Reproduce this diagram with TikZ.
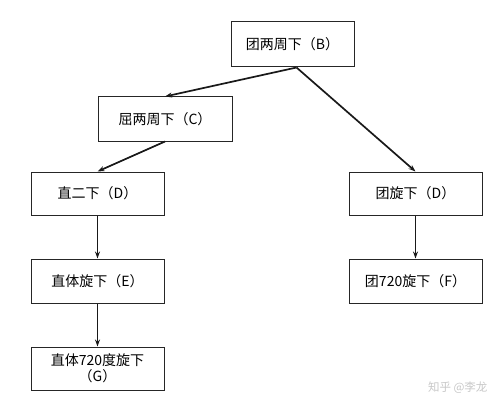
\documentclass[tikz,border=0pt]{standalone}
\usepackage{fontspec}
\setmainfont{Noto Sans CJK SC}
\usetikzlibrary{arrows.meta}
\begin{document}
\begin{tikzpicture}[x=1pt,y=-1pt,
  box/.style={draw=black!85, line width=1pt, minimum width=133pt, minimum height=44pt, inner sep=0pt, font=\fontsize{14}{16}\selectfont, align=center},
  arr/.style={-{Stealth[length=7pt,width=5pt]}, line width=1.7pt, black!90}]
\useasboundingbox (0,0) rectangle (500,409);
\node[box, minimum width=123pt, minimum height=45pt] (B) at (292.5,44.5) {团两周下（B）};
\node[box, minimum width=134pt] (C) at (165,119) {屈两周下（C）};
\node[box, minimum height=43pt] (D1) at (97.5,193.5) {直二下（D）};
\node[box, minimum height=43pt] (D2) at (415.5,193.5) {团旋下（D）};
\node[box] (E) at (97.5,281) {直体旋下（E）};
\node[box] (F) at (415.5,281) {团720旋下（F）};
\node[box, minimum height=43pt, font=\fontsize{14}{16}\selectfont] (G) at (97.5,368.5) {直体720度旋下\\（G）};
\draw[arr] ([xshift=4pt]B.south) -- (C.north);
\draw[arr] ([xshift=4pt]B.south) -- (D2.north);
\draw[arr] (C.south) -- (D1.north);
\draw[arr] (D1.south) -- (E.north);
\draw[arr] (E.south) -- (G.north);
\draw[arr] (D2.south) -- (F.north);
\node[text=black!22, font=\fontsize{11.5}{13}\selectfont, anchor=east] (wm) at (491,388) {知乎 @李龙};
\end{tikzpicture}
\end{document}
